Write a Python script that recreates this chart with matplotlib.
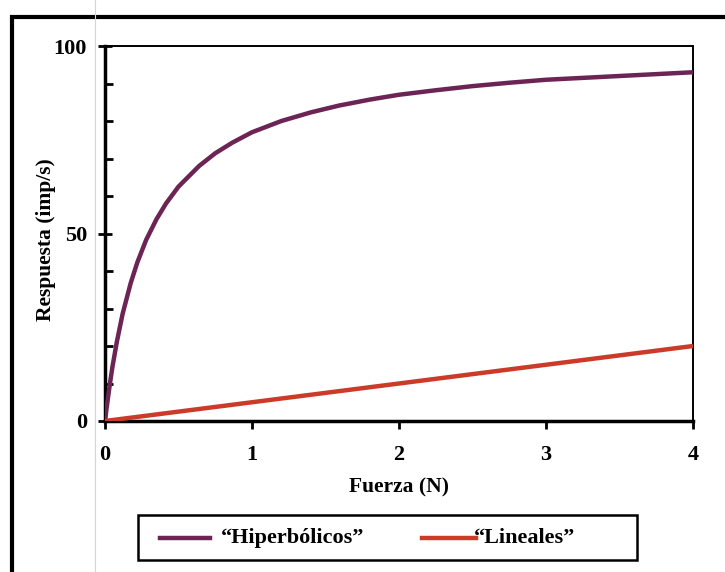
import numpy as np
import matplotlib.pyplot as plt
from matplotlib.patches import Rectangle
from matplotlib.lines import Line2D
from matplotlib.ticker import MultipleLocator

# values
fuerza_hip = [0, 0.01, 0.03, 0.05, 0.08, 0.12, 0.175, 0.22, 0.28, 0.35, 0.415, 0.5,
              0.64, 0.75, 0.865, 1.0, 1.2, 1.4, 1.59, 1.8, 2.0, 2.25, 2.5, 2.75,
              3.0, 3.5, 4.0]
resp_hip = [0, 3.2, 9, 14.3, 21, 28.6, 36.8, 42.3, 48.3, 53.8, 58, 62.5,
            68, 71.4, 74.2, 77, 80, 82.3, 84.1, 85.7, 87, 88.2, 89.3, 90.2,
            91, 92, 93]
fuerza_lin = [0, 4]
resp_lin = [0, 20]

xticks = [0, 1, 2, 3, 4]
yticks = [0, 50, 100]

plt.rcParams['font.family'] = ['Liberation Serif', 'DejaVu Serif']
plt.rcParams['font.weight'] = 'bold'

W, H = 725, 572
fig = plt.figure(figsize=(W / 100, H / 100), dpi=100)
ax = fig.add_axes([105/W, 1 - 421/H, 588/W, 375/H])

col_hip = '#6c2454'
col_lin = '#cc3a2a'
ax.plot(fuerza_hip, resp_hip, color=col_hip, lw=3.2, solid_capstyle='butt',
        solid_joinstyle='round', zorder=3)
ax.plot(fuerza_lin, resp_lin, color=col_lin, lw=3.2, solid_capstyle='butt', zorder=3)

ax.set_xlim(0, 4)
ax.set_ylim(0, 100)
ax.set_xticks(xticks)
ax.set_yticks(yticks)
ax.yaxis.set_minor_locator(MultipleLocator(10))
ax.tick_params(axis='x', which='major', direction='out', length=6, width=2,
               labelsize=16, pad=11)
ax.tick_params(axis='y', which='major', direction='inout', length=10, width=2,
               labelsize=16, pad=8)
ax.tick_params(axis='y', which='minor', direction='in', length=6, width=2)
for s in ax.spines.values():
    s.set_linewidth(1.4)
ax.spines['left'].set_linewidth(2.5)
ax.spines['bottom'].set_linewidth(2.5)

ax.set_xlabel('Fuerza (N)', fontsize=15.5, fontweight='bold', labelpad=9)
ax.set_ylabel('Respuesta (imp/s)', fontsize=15.5, fontweight='bold')
ax.yaxis.set_label_coords((56 - 105) / 588, (421 - 240) / 375)

# legend box drawn in figure pixels
def px(x, y):
    return x / W, 1 - y / H

fig.add_artist(Rectangle(px(138, 560), (637 - 138) / W, 45 / H,
                         transform=fig.transFigure, fill=False,
                         edgecolor='black', lw=1.8))
entries = [('\u201cHiperbólicos\u201d', col_hip, 160, 210, 221),
           ('\u201cLineales\u201d', col_lin, 422, 476, 474)]
for label, c, x0, x1, xt in entries:
    (a0, b0), (a1, _) = px(x0, 538), px(x1, 538)
    fig.add_artist(Line2D([a0, a1], [b0, b0], transform=fig.transFigure,
                          color=c, lw=3.2))
    tx, ty = px(xt, 538)
    fig.text(tx, ty, label, fontsize=16, fontweight='bold', ha='left', va='center')

# outer frame of the scanned figure
fig.add_artist(Rectangle((12/W, -0.2), 1.2, (1 - 17/H) + 0.2,
                         transform=fig.transFigure, fill=False,
                         edgecolor='black', lw=3))
# faint scan line
fig.add_artist(Line2D([95/W, 95/W], [0, 1], transform=fig.transFigure,
                      color='#e8c8dc', lw=0.8))

fig.savefig('out.png', dpi=100)
